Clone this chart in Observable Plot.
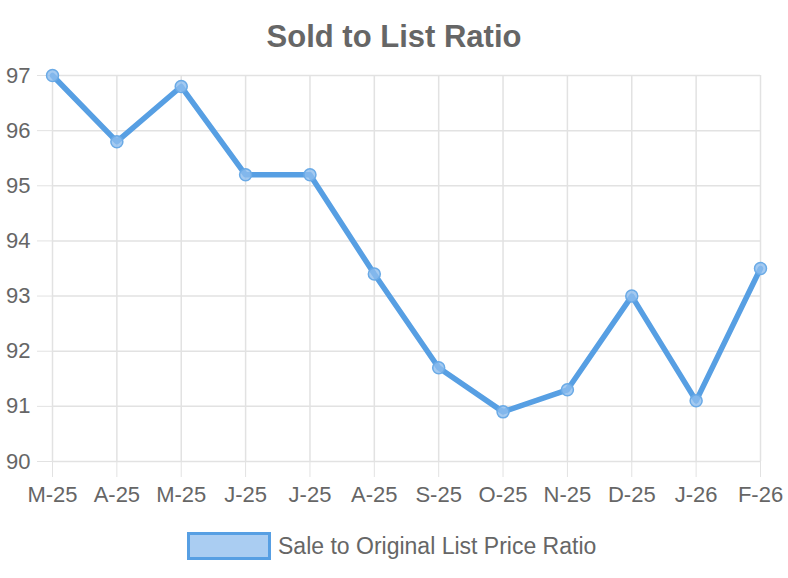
<!DOCTYPE html>
<html>
<head>
<meta charset="utf-8">
<script src="https://cdn.jsdelivr.net/npm/d3@7"></script>
<script src="https://cdn.jsdelivr.net/npm/@observablehq/plot@0.6"></script>
<style>
  html, body { margin: 0; padding: 0; background: #fff; }
  #wrap { position: relative; width: 788px; height: 578px; font-family: "Liberation Sans", Arial, sans-serif; color: #666; }
  #title { position: absolute; top: 17px; left: 0; width: 788px; text-align: center; font-size: 31px; font-weight: bold; line-height: 40px; }
  #chart { position: absolute; top: 55px; left: 0; }
  #legend { position: absolute; top: 532px; left: 187px; display: flex; align-items: center; font-size: 23px; }
  #legend .box { width: 78px; height: 22px; background: #aacdf2; border: 3px solid #579fe3; margin-right: 7px; }
</style>
</head>
<body>
<div id="wrap">
  <div id="title">Sold to List Ratio</div>
  <div id="chart"></div>
  <div id="legend"><span class="box"></span><span>Sale to Original List Price Ratio</span></div>
</div>
<script>
const months = ["M-25","A-25","M-25","J-25","J-25","A-25","S-25","O-25","N-25","D-25","J-26","F-26"];
const ratio = [97, 95.8, 96.8, 95.2, 95.2, 93.4, 91.7, 90.9, 91.3, 93.0, 91.1, 93.5];
const yTicks = [90, 91, 92, 93, 94, 95, 96, 97];

const data = months.map((m, i) => ({i, m, v: ratio[i]}));
const idx = d3.range(months.length);

const chart = Plot.plot({
  width: 788,
  height: 470,
  marginLeft: 52,
  marginRight: 28,
  marginTop: 20,
  marginBottom: 64,
  style: {fontFamily: "Liberation Sans, Arial, sans-serif", fontSize: "22px", color: "#666", background: "transparent", overflow: "visible"},
  x: {type: "linear", domain: [0, months.length - 1]},
  y: {domain: [90, 97]},
  marks: [
    Plot.gridX(idx, {stroke: "#e2e2e2", strokeOpacity: 1, strokeWidth: 1.5}),
    Plot.gridY(yTicks, {stroke: "#e2e2e2", strokeOpacity: 1, strokeWidth: 1.5}),
    Plot.axisX(idx, {tickSize: 16, tickPadding: 9, tickFormat: i => months[i], label: null, stroke: "#e2e2e2", fill: "#666"}),
    Plot.axisY(yTicks, {tickSize: 15, tickPadding: 7, tickFormat: d => String(d), label: null, stroke: "#e2e2e2", fill: "#666"}),
    Plot.line(data, {x: "i", y: "v", stroke: "#579fe3", strokeWidth: 5.5, strokeLinejoin: "round", strokeLinecap: "round"}),
    Plot.dot(data, {x: "i", y: "v", r: 6, fill: "#8dbdee", fillOpacity: 0.8, stroke: "#6aaae6", strokeWidth: 1.5})
  ]
});
document.getElementById("chart").appendChild(chart);
</script>
</body>
</html>
